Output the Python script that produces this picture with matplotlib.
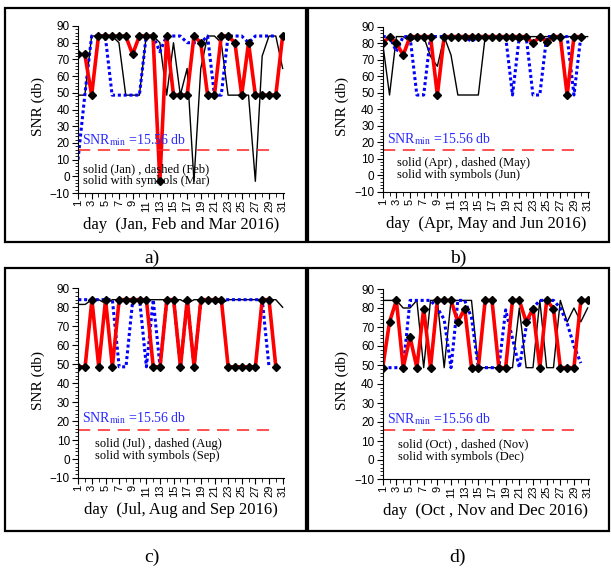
import numpy as np
import matplotlib
matplotlib.use('Agg')
import matplotlib.pyplot as plt
from matplotlib.patches import Rectangle
from matplotlib.ticker import MultipleLocator

nan = np.nan
days = np.arange(1, 32)

# panel a: Jan (solid), Feb (dashed), Mar (solid with symbols)
jan = [48.6, 48.6, 84, 84, 84, 84, 80, 48.6, 48.6, 48.6, 84, 84, 80, 48.6, 80, 48.6,
       64.6, -3, 64.6, 84, 84, 80, 48.6, 48.6, 48.6, 48.6, -3, 72, 84, 84, 64.6]
feb = [10, 48.6, 84, 84, 84, 48.6, 48.6, 48.6, 48.6, 48.6, 84, 84, 74.6, 84, 84, 84,
       80, 80, 80, 84, 48.6, 48.6, 84, 84, 84, 80, 84, 84, 84, 84, nan]
mar = [73, 73, 48.6, 84, 84, 84, 84, 84, 73, 84, 84, 84, -3, 84, 48.6, 48.6,
       48.6, 84, 80, 48.6, 48.6, 84, 84, 80, 48.6, 80, 48.6, 48.6, 48.6, 48.6, 84]

# panel b: Apr, May, Jun
apr = [80, 48.6, 84, 84, 81, 84, 84, 72, 66, 84, 72.8, 48.6, 48.6, 48.6, 48.6, 84,
       84, 84, 84, 84, 81, 84, 84, 84, 84, 84, 84, 84, 84, 84, 84]
may = [84, 84, 75, 84, 84, 48.6, 48.6, 84, 84, 84, 84, 84, 84, 81, 84, 84,
       84, 84, 84, 48.6, 84, 84, 48.6, 48.6, 84, 84, 84, 84, 48.6, 84, nan]
jun = [80, 84, 80, 72.8, 84, 84, 84, 84, 48.6, 84, 84, 84, 84, 84, 84, 84,
       84, 84, 84, 84, 84, 84, 80, 84, 81, 84, 84, 48.6, 84, 84, nan]

# panel c: Jul, Aug, Sep
jul = [81.5, 81.5, 84, 84, 82, 84, 84, 84, 84, 84, 84, 84, 84, 84, 84, 84,
       82, 84, 84, 84, 84, 82, 84, 84, 84, 84, 84, 84, 84, 84, 80]
aug = [84, 84, 84, 84, 84, 84, 48.6, 48.6, 84, 84, 48.6, 84, 48.6, 84, 84, 48.6,
       84, 48.6, 84, 84, 84, 84, 84, 84, 84, 84, 84, 84, 48.6, nan, nan]
sep = [48.6, 48.6, 84, 48.6, 84, 48.6, 84, 84, 84, 84, 84, 48.6, 48.6, 84, 84, 48.6,
       84, 48.6, 84, 84, 84, 84, 48.6, 48.6, 48.6, 48.6, 48.6, 84, 84, 48.6, nan]

# panel d: Oct, Nov, Dec
octo = [84, 84, 84, 80, 80, 84, 48.6, 84, 84, 48.6, 84, 84, 84, 84, 48.6, 48.6,
        48.6, 48.6, 48.6, 48.6, 80, 48.6, 48.6, 84, 48.6, 48.6, 84, 72.7, 80, 72.7, 80]
nov = [48.6, 48.6, 48.6, 48.6, 84, 84, 84, 84, 80, 74, 48.6, 84, 84, 75, 48.6, 48.6,
       48.6, 48.6, 79, 64, 48.6, 70, 80, 84, 84, 84, 80, 72, 60, 51, nan]
dec = [48.6, 72.7, 84, 48.6, 64.7, 48.6, 79.7, 48.6, 84, 84, 84, 72.7, 79.7, 48.6, 48.6, 84,
       84, 48.6, 48.6, 84, 84, 72.7, 79.7, 48.6, 84, 79.7, 48.6, 48.6, 48.6, 84, 84]

snr_min = 15.56

W, H = 611, 568
SERIF = 'Liberation Serif'
SANS = 'Liberation Sans'
plt.rcParams['mathtext.fontset'] = 'stix'

fig = plt.figure(figsize=(W / 100, H / 100), dpi=100)


def rect(x0, y0, x1, y1):
    return [x0 / W, 1 - y1 / H, (x1 - x0) / W, (y1 - y0) / H]


def panel(box, black, blue, red, months, xlab, note_xy, label_xy):
    ax = fig.add_axes(rect(*box))
    ax.plot(days, black, color='black', lw=1.0)
    ax.plot(days, blue, color='#0000ff', lw=2.2, ls=(0, (1.0, 0.9)))
    ax.plot(days, red, color='#ff0000', lw=2.6, marker='D', ms=3.6,
            mfc='black', mec='black')
    ax.plot([1, 29.3], [snr_min, snr_min], color='#ff2020', lw=1.1, dashes=(8, 5))
    ax.text(1.6, 19.3, r'SNR$_{\mathrm{min}}$ =15.56 db', color='#2a2aff',
            family=SERIF, fontsize=10)
    nx, ny1, ny2 = note_xy
    ax.text(nx, ny1, 'solid (%s) , dashed (%s)' % (months[0], months[1]),
            family=SERIF, fontsize=9)
    ax.text(nx, ny2, 'solid with symbols (%s)' % months[2],
            family=SERIF, fontsize=9)
    ax.set_xlim(1, 31.2)
    ax.set_ylim(-10, 90)
    ax.spines['top'].set_visible(False)
    ax.spines['right'].set_visible(False)
    ax.set_xticks(np.arange(1, 32, 2))
    ax.xaxis.set_minor_locator(MultipleLocator(1))
    ax.set_yticks(np.arange(-10, 91, 10))
    ax.yaxis.set_minor_locator(MultipleLocator(2))
    ax.tick_params(axis='x', which='major', length=4, labelrotation=90, pad=1,
                   labelsize=8)
    ax.tick_params(axis='x', which='minor', length=3)
    ax.tick_params(axis='y', which='major', length=4, pad=2, labelsize=8.5)
    ax.tick_params(axis='y', which='minor', length=2)
    for t in ax.get_xticklabels() + ax.get_yticklabels():
        t.set_family(SANS)
    # labels placed in pixel space
    x0, y0, x1, y1 = box
    fig.text((x0 + x1) / 2 / W, 1 - (y1 + 32) / H, xlab, family=SERIF,
             fontsize=12, ha='center', va='center')
    fig.text((x0 - 40) / W, 1 - ((y0 + y1) / 2 - 3) / H, 'SNR (db)', family=SERIF,
             fontsize=11, rotation=90, ha='center', va='center')
    lx, ly, ltxt = label_xy
    fig.text(lx / W, 1 - ly / H, ltxt, family=SERIF, fontsize=14,
             ha='center', va='center')
    return ax


panel((78, 26, 284, 193), jan, feb, mar, ('Jan', 'Feb', 'Mar'),
      'day  (Jan, Feb and Mar 2016)', (1.7, 2.2, -4.6), (152, 258, 'a)'))
panel((382.7, 26.7, 589, 191.7), apr, may, jun, ('Apr', 'May', 'Jun'),
      'day  (Apr, May and Jun 2016)', (3.1, 5.8, -1.9), (458, 258, 'b)'))
panel((78.3, 288.3, 284, 478), jul, aug, sep, ('Jul', 'Aug', 'Sep'),
      'day  (Jul, Aug and Sep 2016)', (3.5, 6.6, 0.2), (152, 557, 'c)'))
panel((382.7, 289, 589, 479), octo, nov, dec, ('Oct', 'Nov', 'Dec'),
      'day  (Oct , Nov and Dec 2016)', (3.2, 6.6, 0.2), (458, 557, 'd)'))

# frames around each panel
for (x0, y0, x1, y1) in [(5, 8, 306, 242), (308, 8, 609, 242),
                         (5, 268, 306, 531), (308, 268, 609, 531)]:
    fig.add_artist(Rectangle((x0 / W, 1 - y1 / H), (x1 - x0) / W, (y1 - y0) / H,
                             transform=fig.transFigure, fill=False,
                             edgecolor='black', lw=1.6))

fig.savefig('out.png', dpi=100)
